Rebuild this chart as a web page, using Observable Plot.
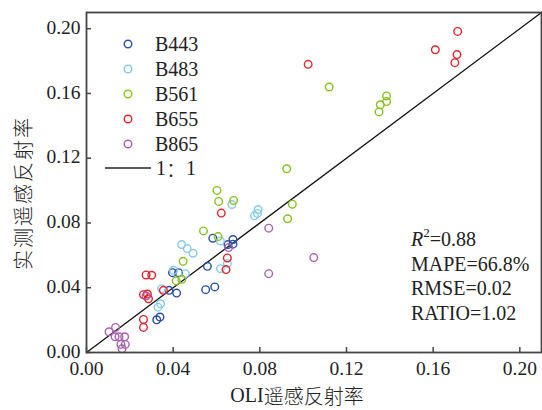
<!DOCTYPE html>
<html>
<head>
<meta charset="utf-8">
<script src="https://cdn.jsdelivr.net/npm/d3@7"></script>
<script src="https://cdn.jsdelivr.net/npm/@observablehq/plot@0.6"></script>
<style>
  body { margin: 0; background: #fff; }
  #wrap { position: relative; width: 542px; height: 410px; }
  #wrap svg { font-family: "Liberation Serif", "Times New Roman", "Noto Sans CJK SC", serif; }
  #overlay { position: absolute; left: 0; top: 0; pointer-events: none; }
</style>
</head>
<body>
<div id="wrap"></div>
<script>
// ---- data ----
const seriesNames = ["B443", "B483", "B561", "B655", "B865"];
const seriesColors = ["#2650A6", "#86CBEA", "#86C21E", "#E3222B", "#A862AE"];

const b443 = [[0.0324,0.0202],[0.0339,0.0219],[0.0381,0.0384],[0.0416,0.0367],[0.0397,0.0493],[0.0425,0.0493],[0.0550,0.0388],[0.0592,0.0405],[0.0558,0.0532],[0.0583,0.0706],[0.0653,0.0667],[0.0676,0.0669],[0.0676,0.0698]];
const b483 = [[0.0330,0.0280],[0.0342,0.0301],[0.0347,0.0394],[0.0402,0.0508],[0.0456,0.0487],[0.0439,0.0667],[0.0465,0.0642],[0.0492,0.0613],[0.0618,0.0518],[0.0650,0.0549],[0.0618,0.0689],[0.0671,0.0914],[0.0775,0.0844],[0.0789,0.0859],[0.0792,0.0883]];
const b561 = [[0.0414,0.0442],[0.0440,0.0452],[0.0446,0.0563],[0.0540,0.0751],[0.0607,0.0716],[0.0602,0.1001],[0.0610,0.0933],[0.0679,0.0939],[0.0924,0.1135],[0.0950,0.0916],[0.0928,0.0826],[0.1120,0.1640],[0.1350,0.1486],[0.1356,0.1530],[0.1385,0.1550],[0.1385,0.1585]];
const b655 = [[0.0263,0.0155],[0.0263,0.0204],[0.0263,0.0357],[0.0281,0.0361],[0.0286,0.0332],[0.0275,0.0479],[0.0301,0.0477],[0.0355,0.0384],[0.0644,0.0512],[0.0650,0.0584],[0.0622,0.0861],[0.1023,0.1780],[0.1610,0.1870],[0.1700,0.1790],[0.1710,0.1840],[0.1713,0.1983]];
const b865 = [[0.0104,0.0128],[0.0134,0.0155],[0.0132,0.0097],[0.0150,0.0097],[0.0176,0.0097],[0.0159,0.0050],[0.0179,0.0050],[0.0164,0.0023],[0.0275,0.0349],[0.0656,0.0648],[0.0841,0.0768],[0.0841,0.0487],[0.1049,0.0586]];

const tickValues = [0, 0.04, 0.08, 0.12, 0.16, 0.20];
const axisDomain = [0, 0.21];
const oneToOne = [0, 0.21];
const statLines = ["=0.88", "MAPE=66.8%", "RMSE=0.02", "RATIO=1.02"];
const xTitle = "OLI遥感反射率";
const yTitle = "实测遥感反射率";

// ---- table ----
const allSeries = [b443, b483, b561, b655, b865];
const points = [];
allSeries.forEach((arr, i) => arr.forEach(([x, y]) => points.push({band: seriesNames[i], x, y})));

const frameColor = "#454545";
const W = 542, H = 410, mL = 86, mR = 1, mT = 12, mB = 58;
const tickLen = 5;

const chart = Plot.plot({
  width: W,
  height: H,
  marginLeft: mL,
  marginRight: mR,
  marginTop: mT,
  marginBottom: mB,
  style: {fontSize: "19.5px", fontFamily: '"Liberation Serif", "Noto Sans CJK SC", serif', color: "#222", overflow: "visible"},
  x: {domain: axisDomain, ticks: tickValues, label: null},
  y: {domain: axisDomain, ticks: tickValues, label: null},
  color: {domain: seriesNames, range: seriesColors},
  marks: [
    Plot.axisX({ticks: tickValues, tickFormat: d3.format(".2f"), tickSize: 0, tickPadding: 9, label: null, fill: "#222"}),
    Plot.axisY({ticks: tickValues, tickFormat: d3.format(".2f"), tickSize: 0, tickPadding: 6, label: null, fill: "#222", dy: -1}),
    // inward tick marks
    Plot.tickX(tickValues, {x: d => d, stroke: frameColor, strokeWidth: 1.5, insetTop: (H - mT - mB) - tickLen}),
    Plot.tickY(tickValues, {y: d => d, stroke: frameColor, strokeWidth: 1.5, insetRight: (W - mL - mR) - tickLen}),
    Plot.line(oneToOne, {x: d => d, y: d => d, stroke: "#111", strokeWidth: 1.3}),
    Plot.dot(points, {x: "x", y: "y", stroke: "band", r: 3.8, strokeWidth: 1.4, fill: "none"}),
    Plot.frame({stroke: frameColor, strokeWidth: 1.8})
  ]
});

const wrap = document.getElementById("wrap");
wrap.appendChild(chart);

// ---- overlay: titles, legend, statistics ----
const ov = d3.select(wrap).append("svg")
  .attr("id", "overlay").attr("width", W).attr("height", H);

const serif = '"Liberation Serif", "Times New Roman", serif';
const cjk = '"Noto Sans CJK SC", sans-serif';

ov.append("text").attr("x", 297).attr("y", 395)
  .attr("text-anchor", "middle").attr("dominant-baseline", "central")
  .style("font-size", "20px").attr("fill", "#222")
  .call(t => {
    t.append("tspan").style("font-family", serif).text(xTitle.slice(0, 3));
    t.append("tspan").style("font-family", cjk).style("font-weight", 300).text(xTitle.slice(3));
  });

ov.append("text")
  .attr("transform", "translate(22,193) rotate(-90)")
  .attr("text-anchor", "middle").attr("dominant-baseline", "central")
  .style("font-family", cjk).style("font-size", "20px").style("font-weight", 300)
  .attr("letter-spacing", "2px").attr("fill", "#222")
  .text(yTitle);

// legend
const lg = ov.append("g");
seriesNames.forEach((name, i) => {
  const y = 44 + 25 * i;
  lg.append("circle").attr("cx", 128).attr("cy", y).attr("r", 3.8)
    .attr("fill", "none").attr("stroke", seriesColors[i]).attr("stroke-width", 1.4);
  lg.append("text").attr("x", 155).attr("y", y).attr("dominant-baseline", "central")
    .style("font-family", serif).style("font-size", "20px").attr("fill", "#222").text(name);
});
lg.append("line").attr("x1", 105).attr("x2", 151).attr("y1", 168).attr("y2", 168)
  .attr("stroke", "#222").attr("stroke-width", 1.3);
lg.append("text").attr("x", 156).attr("y", 168).attr("dominant-baseline", "central")
  .style("font-family", serif).style("font-size", "20px").attr("fill", "#222")
  .call(t => {
    t.append("tspan").text("1");
    t.append("tspan").style("font-family", cjk).style("font-weight", 300).text("：");
    t.append("tspan").text("1");
  });

// statistics
const st = ov.append("g").style("font-family", serif).style("font-size", "20px").attr("fill", "#222");
statLines.forEach((s, i) => {
  const t = st.append("text").attr("x", 411).attr("y", 239 + 24.5 * i).attr("dominant-baseline", "central");
  if (i === 0) {
    t.append("tspan").style("font-style", "italic").text("R");
    t.append("tspan").attr("dy", -7).style("font-size", "13px").text("2");
    t.append("tspan").attr("dy", 7).text(s);
  } else {
    t.text(s);
  }
});
</script>
</body>
</html>
